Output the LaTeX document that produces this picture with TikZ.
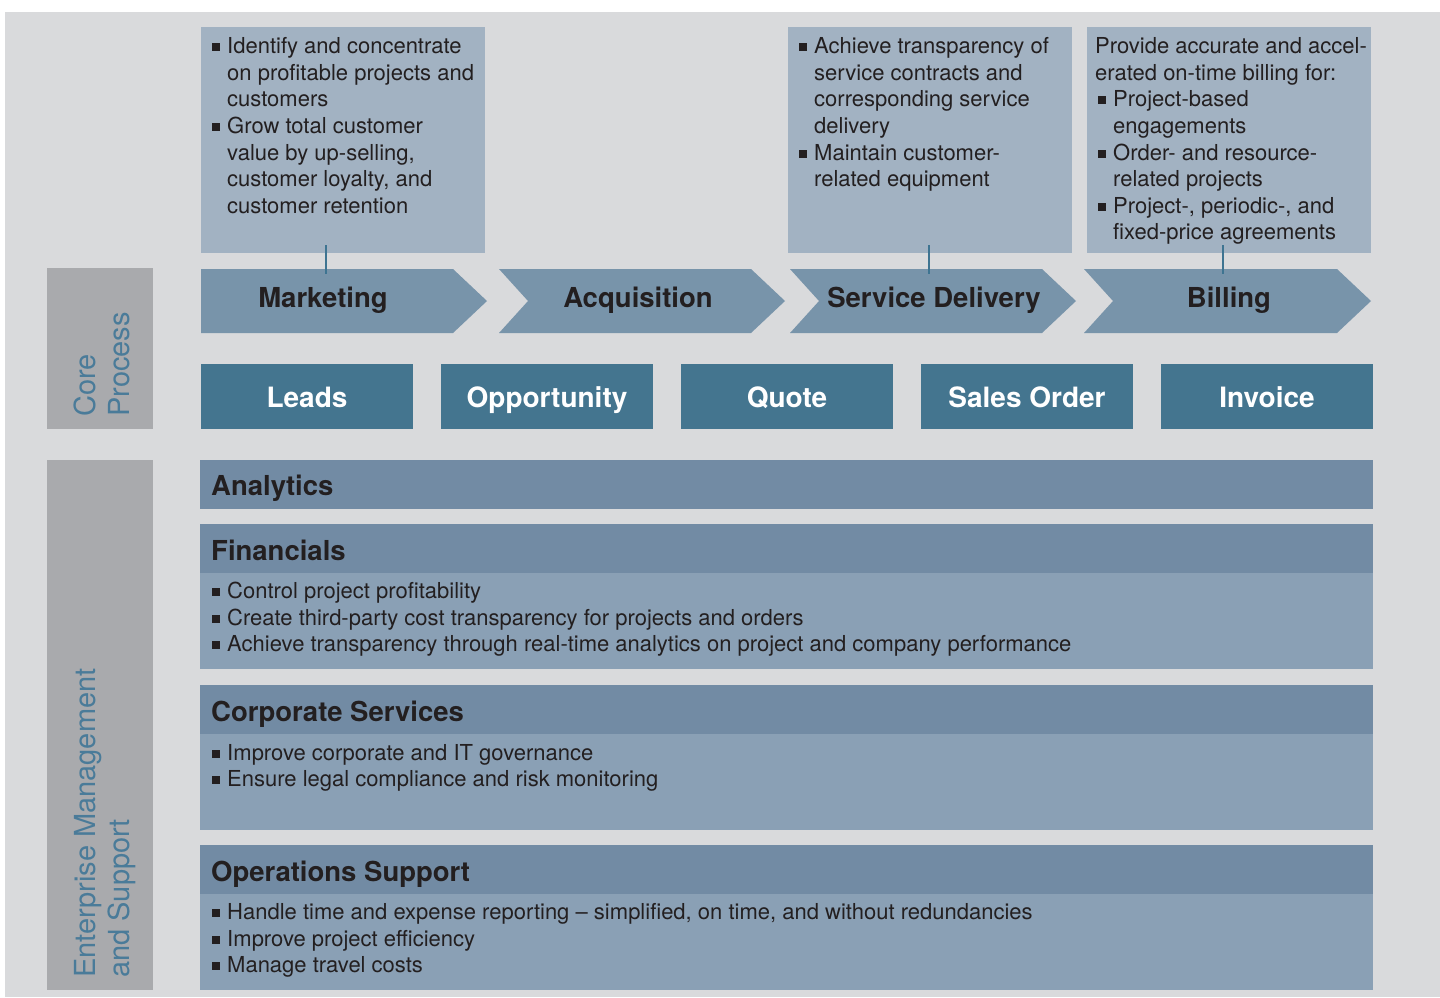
\documentclass[tikz,border=0pt]{standalone}
\usepackage{fontspec}
\setmainfont{TeX Gyre Heros}
\definecolor{bgc}{HTML}{D9DADC}
\definecolor{topc}{HTML}{A2B2C2}
\definecolor{chevc}{HTML}{7894AA}
\definecolor{hdrc}{HTML}{728BA4}
\definecolor{bodyc}{HTML}{8AA0B5}
\definecolor{sidec}{HTML}{A9AAAD}
\definecolor{sidetxt}{HTML}{4A7B99}
\definecolor{darkc}{HTML}{44758F}
\definecolor{connc}{HTML}{3E7491}
\definecolor{txtc}{HTML}{231F20}
\newcommand\bul{\makebox[16pt][l]{\hspace{1pt}\rule[2.5pt]{8pt}{8pt}}}
\newcommand\ind{\hspace*{16pt}}
\newcommand\fl{\rule{0pt}{20pt}}
\begin{document}
\begin{tikzpicture}[x=1pt,y=-1pt,
 rect/.style={inner sep=0pt, outer sep=0pt, anchor=north west},
 topbox/.style={rect, fill=topc, minimum width=284pt, minimum height=226pt},
 sidebox/.style={rect, fill=sidec, minimum width=106pt},
 darkbox/.style={inner sep=0pt, fill=darkc, minimum width=212pt, minimum height=65pt, text=white, font=\fontsize{28pt}{30pt}\selectfont\bfseries, text height=21pt, text depth=0pt},
 hdr/.style={rect, fill=hdrc, minimum width=1173pt, minimum height=49pt},
 bodybox/.style={rect, fill=bodyc, minimum width=1173pt},
 title/.style={inner sep=0pt, anchor=base west, text=txtc, font=\fontsize{27.5pt}{30pt}\selectfont\bfseries},
 chevtext/.style={inner sep=0pt, anchor=base, text=txtc, font=\fontsize{27.5pt}{30pt}\selectfont\bfseries},
 bodytext/.style={inner sep=0pt, anchor=north west, align=left, text=txtc, font=\fontsize{22pt}{26.6pt}\selectfont},
 sidelabel/.style={inner sep=0pt, anchor=north west, rotate=90, align=left, text=sidetxt, font=\fontsize{29pt}{34pt}\selectfont},
 chev/.style={fill=chevc},
 conn/.style={draw=connc, line width=2.6pt}
]
\useasboundingbox (0,0) rectangle (1440,997);
\fill[white] (0,0) rectangle (1440,997);
\fill[bgc] (5,12) rectangle (1440,997);

% side boxes
\node[sidebox, minimum height=161pt] (core) at (47,268) {};
\node[sidebox, minimum height=530pt] (ent) at (47,460) {};
\node[sidelabel] (coreT) at (73,417) {\rule{0pt}{22pt}Core\\Process};
\node[sidelabel] (entT) at (73,978) {\rule{0pt}{22pt}Enterprise Management\\and Support};

% top boxes
\node[topbox] (topM) at (201,27) {};
\node[topbox] (topS) at (788,27) {};
\node[topbox] (topB) at (1087,27) {};

\node[bodytext] (topMt) at (211,33.5) {\fl\bul Identify and concentrate\\
\ind on profitable projects and\\
\ind customers\\
\bul Grow total customer\\
\ind value by up-selling,\\
\ind customer loyalty, and\\
\ind customer retention};

\node[bodytext] (topSt) at (798,33.5) {\fl\bul Achieve transparency of\\
\ind service contracts and\\
\ind corresponding service\\
\ind delivery\\
\bul Maintain customer-\\
\ind related equipment};

\node[bodytext] (topBt) at (1095,33.5) {\fl Provide accurate and accel-\\
erated on-time billing for:\\
\hspace*{2pt}\bul Project-based\\
\hspace*{18pt}engagements\\
\hspace*{2pt}\bul Order- and resource-\\
\hspace*{18pt}related projects\\
\hspace*{2pt}\bul Project-, periodic-, and\\
\hspace*{18pt}fixed-price agreements};

% chevrons
\fill[chev] (201,269) -- (453,269) -- (487,301) -- (453,333) -- (201,333) -- cycle;
\fill[chev] (499,269) -- (751,269) -- (785,301) -- (751,333) -- (499,333) -- (528,301) -- cycle;
\fill[chev] (790,269) -- (1042,269) -- (1076,301) -- (1042,333) -- (790,333) -- (819,301) -- cycle;
\fill[chev] (1084,269) -- (1337,269) -- (1371,301) -- (1337,333) -- (1084,333) -- (1113,301) -- cycle;
\node[chevtext] (chM) at (323,307) {Marketing};
\node[chevtext] (chA) at (638,307) {Acquisition};
\node[chevtext] (chS) at (934,307) {Service Delivery};
\node[chevtext] (chB) at (1229,307) {Billing};

% connectors
\coordinate (cM1) at (326,245); \coordinate (cM2) at (326,274);
\coordinate (cS1) at (929,245); \coordinate (cS2) at (929,274);
\coordinate (cB1) at (1223,245); \coordinate (cB2) at (1223,274);
\draw[conn] (cM1) -- (cM2);
\draw[conn] (cS1) -- (cS2);
\draw[conn] (cB1) -- (cB2);

% dark boxes
\node[darkbox] (leads) at (307,396.5) {Leads};
\node[darkbox] (opp) at (547,396.5) {Opportunity};
\node[darkbox] (quote) at (787,396.5) {Quote};
\node[darkbox] (so) at (1027,396.5) {Sales Order};
\node[darkbox] (inv) at (1267,396.5) {Invoice};

% bars
\node[hdr] (anaH) at (200,460) {};
\node[title] (anaT) at (211,495) {Analytics};

\node[hdr] (finH) at (200,524) {};
\node[bodybox, minimum height=96pt] (finB) at (200,573) {};
\node[title] (finT) at (211,560) {Financials};
\node[bodytext] (finX) at (211,578.5) {\fl\bul Control project profitability\\
\bul Create third-party cost transparency for projects and orders\\
\bul Achieve transparency through real-time analytics on project and company performance};

\node[hdr] (corH) at (200,685) {};
\node[bodybox, minimum height=96pt] (corB) at (200,734) {};
\node[title] (corT) at (211,721) {Corporate Services};
\node[bodytext] (corX) at (211,740) {\fl\bul Improve corporate and IT governance\\
\bul Ensure legal compliance and risk monitoring};

\node[hdr] (opsH) at (200,845) {};
\node[bodybox, minimum height=96pt] (opsB) at (200,894) {};
\node[title] (opsT) at (211,881) {Operations Support};
\node[bodytext] (opsX) at (211,899.5) {\fl\bul Handle time and expense reporting – simplified, on time, and without redundancies\\
\bul Improve project efficiency\\
\bul Manage travel costs};
\end{tikzpicture}
\end{document}
